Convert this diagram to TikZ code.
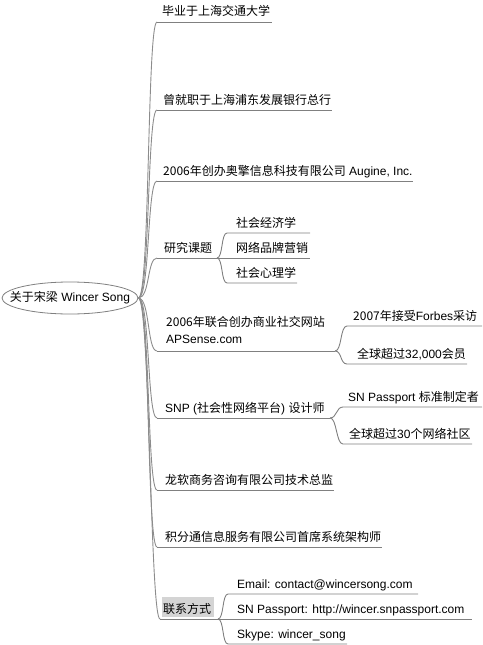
\documentclass[tikz,border=0pt]{standalone}
\usepackage{fontspec}
\setmainfont{Liberation Sans}
\newfontfamily\cjk{Noto Sans CJK SC}
\newcommand\zh[1]{{\cjk #1}}
\usetikzlibrary{shapes.geometric}
\definecolor{linegray}{HTML}{808080}
\definecolor{trunkgray}{HTML}{8C8C8C}
\definecolor{boxgray}{HTML}{D4D4D4}
\begin{document}
\begin{tikzpicture}[x=1pt,y=-1pt,
  lbl/.style={font=\fontsize{12}{17}\selectfont, inner sep=0pt, anchor=base west, text=black},
  uline/.style={draw=linegray, line width=0.9pt},
  trunk/.style={draw=trunkgray, line width=0.9pt},
  rootnode/.style={ellipse, draw=linegray, line width=0.8pt, minimum width=136pt, minimum height=32pt, inner xsep=-16pt, inner ysep=2pt, font=\fontsize{12}{17}\selectfont},
  hlbox/.style={fill=boxgray, draw=none}
]
\useasboundingbox (0,0) rectangle (482,645);

% root
\node[rootnode] (root) at (70,298) {\zh{关于宋梁} Wincer Song};

% underline coordinates of main branches (start / end)
\coordinate (b1s) at (157,22);  \coordinate (b1e) at (272,22);
\coordinate (b2s) at (157,110); \coordinate (b2e) at (332,110);
\coordinate (b3s) at (157,181); \coordinate (b3e) at (413,181);
\coordinate (b4s) at (157,258); \coordinate (b4e) at (217,258);
\coordinate (b5s) at (157,351); \coordinate (b5e) at (335,351);
\coordinate (b6s) at (157,418); \coordinate (b6e) at (330,418);
\coordinate (b7s) at (157,490); \coordinate (b7e) at (334,490);
\coordinate (b8s) at (157,547); \coordinate (b8e) at (382,547);
\coordinate (b9s) at (160,619); \coordinate (b9e) at (218,619);

% sub-branch coordinates
\coordinate (s4as) at (227,233); \coordinate (s4ae) at (310,233);
\coordinate (s4be) at (310,258);
\coordinate (s4cs) at (227,283); \coordinate (s4ce) at (297,283);
\coordinate (s5as) at (347,326); \coordinate (s5ae) at (482,326);
\coordinate (s5bs) at (347,364); \coordinate (s5be) at (467,364);
\coordinate (s6as) at (343,407); \coordinate (s6ae) at (482,407);
\coordinate (s6bs) at (343,444); \coordinate (s6be) at (472,444);
\coordinate (s9as) at (228,594); \coordinate (s9ae) at (418,594);
\coordinate (s9be) at (472,619);
\coordinate (s9cs) at (228,644); \coordinate (s9ce) at (347,644);

% highlight box for contact
\node[hlbox, minimum width=52pt, minimum height=20pt, inner sep=0pt, anchor=north west] (hb) at (162,597) {};

% trunk connectors
\draw[trunk] (root.east) .. controls (150,298) and (147,22) .. (b1s);
\draw[trunk] (root.east) .. controls (150,298) and (147,110) .. (b2s);
\draw[trunk] (root.east) .. controls (150,298) and (147,181) .. (b3s);
\draw[trunk] (root.east) .. controls (150,298) and (147,258) .. (b4s);
\draw[trunk] (root.east) .. controls (150,298) and (147,351) .. (b5s);
\draw[trunk] (root.east) .. controls (150,298) and (147,418) .. (b6s);
\draw[trunk] (root.east) .. controls (150,298) and (147,490) .. (b7s);
\draw[trunk] (root.east) .. controls (150,298) and (147,547) .. (b8s);
\draw[trunk] (root.east) .. controls (150,298) and (150,619) .. (b9s);

% main underlines
\foreach \k in {1,...,9} {\draw[uline] (b\k s) -- (b\k e);}

% sub connectors
\draw[uline] (b4e) .. controls (223,258) and (221,233) .. (s4as) -- (s4ae);
\draw[uline] (b4e) -- (s4be);
\draw[uline] (b4e) .. controls (223,258) and (221,283) .. (s4cs) -- (s4ce);
\draw[uline] (b5e) .. controls (342,351) and (340,326) .. (s5as) -- (s5ae);
\draw[uline] (b5e) .. controls (342,351) and (340,364) .. (s5bs) -- (s5be);
\draw[uline] (b6e) .. controls (337,418) and (336,407) .. (s6as) -- (s6ae);
\draw[uline] (b6e) .. controls (337,418) and (336,444) .. (s6bs) -- (s6be);
\draw[uline] (b9e) .. controls (224,619) and (222,594) .. (s9as) -- (s9ae);
\draw[uline] (b9e) -- (s9be);
\draw[uline] (b9e) .. controls (224,619) and (222,644) .. (s9cs) -- (s9ce);

% main labels
\node[lbl] (t1) at (162,16) {\zh{毕业于上海交通大学}};
\node[lbl] (t2) at (163,104) {\zh{曾就职于上海浦东发展银行总行}};
\node[lbl] (t3) at (163,175) {\zh{2006年创办奥擎信息科技有限公司} Augine, Inc.};
\node[lbl] (t4) at (164,252) {\zh{研究课题}};
\node[lbl, anchor=west, align=left] (t5) at (166,330) {\zh{2006年联合创办商业社交网站}\\APSense.com};
\node[lbl] (t6) at (165,412) {SNP (\zh{社会性网络平台}) \zh{设计师}};
\node[lbl] (t7) at (165,484) {\zh{龙软商务咨询有限公司技术总监}};
\node[lbl] (t8) at (165,541) {\zh{积分通信息服务有限公司首席系统架构师}};
\node[lbl] (t9) at (163,613) {\zh{联系方式}};

% sub labels
\node[lbl] (t4a) at (236,227) {\zh{社会经济学}};
\node[lbl] (t4b) at (236,252) {\zh{网络品牌营销}};
\node[lbl] (t4c) at (236,277) {\zh{社会心理学}};
\node[lbl] (t5a) at (353,320) {\zh{2007年接受}Forbes\zh{采访}};
\node[lbl] (t5b) at (357,358) {\zh{全球超过}32,000\zh{会员}};
\node[lbl] (t6a) at (348,401) {SN Passport \zh{标准制定者}};
\node[lbl] (t6b) at (349,438) {\zh{全球超过}30\zh{个网络社区}};
\node[lbl] (t9a) at (237,588) {Email: contact@wincersong.com};
\node[lbl] (t9b) at (237,613) {SN Passport: http://wincer.snpassport.com};
\node[lbl] (t9c) at (237,638) {Skype: wincer\_song};
\end{tikzpicture}
\end{document}
